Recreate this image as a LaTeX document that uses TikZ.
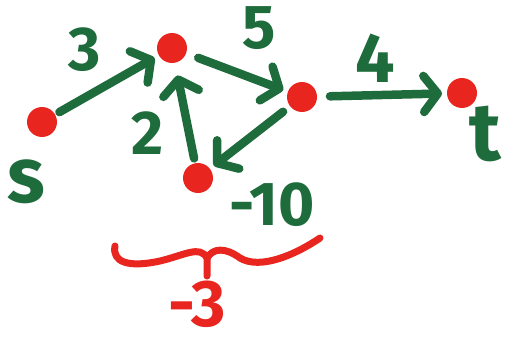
\documentclass[tikz,border=0pt]{standalone}
\usepackage{fontspec}
\setmainfont{Fira Sans}
\usetikzlibrary{arrows.meta}
\definecolor{pen}{HTML}{1E6B3C}
\definecolor{ink}{HTML}{E8261F}
\begin{document}
\begin{tikzpicture}[x=1pt,y=-1pt,
 dot/.style={circle,fill=ink,minimum size=30pt,inner sep=0pt,outer sep=5pt},
 edge/.style={draw=pen,line width=8.5pt,line cap=round,line join=round,-{Straight Barb[length=14pt,width=36pt,line cap=round,round]}},
 lbl/.style={text=pen,inner sep=0pt},
 big/.style={font=\fontsize{62}{62}\selectfont\bfseries},
 redlbl/.style={text=ink,inner sep=0pt,font=\fontsize{66}{66}\selectfont\bfseries},
 bracepen/.style={draw=ink,line width=7pt,line cap=round,line join=round}
 ]
\useasboundingbox (0,0) rectangle (509,348);
\fill[white] (0,0) rectangle (509,348);
% vertices
\node[dot] (s) at (42,122) {};
\node[dot] (top) at (172,48) {};
\node[dot] (right) at (302,97) {};
\node[dot] (bottom) at (198,178) {};
\node[dot] (t) at (462,93) {};
% edges
\draw[edge] (s) -- (top);
\draw[edge,shorten <=8pt] (top) -- (right);
\draw[edge,shorten <=8pt] (right) -- (t);
\draw[edge,shorten >=8pt] (bottom) -- (top);
\draw[edge,shorten <=4pt] (right) -- (bottom);
% labels
\node[lbl,big] (l3) at (85,50) {3};
\node[lbl,big] (l5) at (259,28) {5};
\node[lbl,big,font=\fontsize{70}{70}\selectfont\bfseries] (l4) at (375,58) {4};
\node[lbl,big] (l2) at (148,133) {2};
\node[lbl,big] (l10) at (272,205) {-10};
\node[lbl,font=\fontsize{78}{78}\selectfont\bfseries] (ls) at (26,182) {s};
\node[lbl,font=\fontsize{82}{82}\selectfont\bfseries] (lt) at (485,134) {t};
% brace
\coordinate (bl) at (115,246);
\coordinate (bc) at (207,258);
\coordinate (btip) at (207,276);
\coordinate (br) at (320,238);
\draw[bracepen] (bl) .. controls (112,262) and (128,268) .. (160,261)
  .. controls (185,255) and (200,245) .. (bc) -- (btip);
\draw[bracepen] (bc) .. controls (213,248) and (225,247) .. (240,258)
  .. controls (260,270) and (295,255) .. (br);
\node[redlbl] (m3) at (197,304) {-3};
\end{tikzpicture}
\end{document}
